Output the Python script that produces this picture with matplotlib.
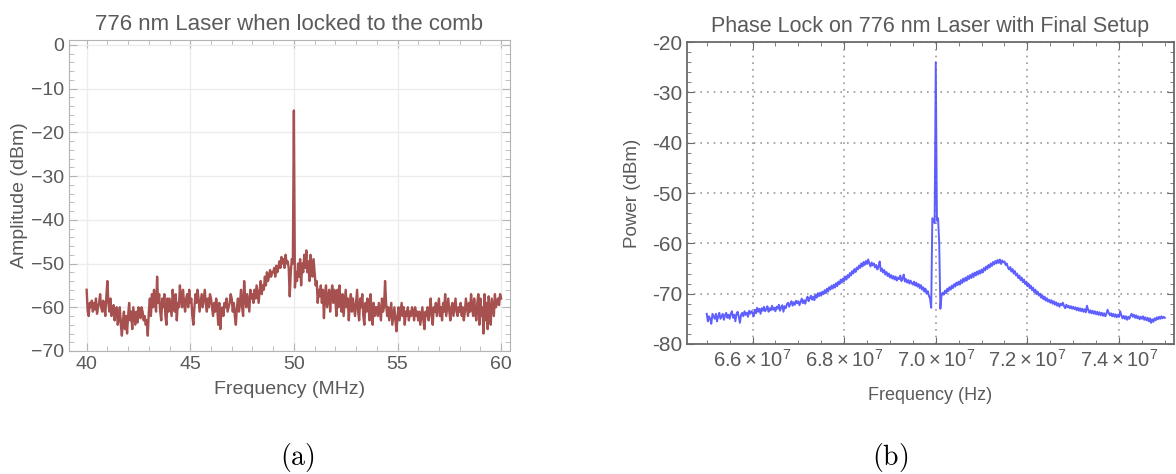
import numpy as np
import matplotlib
matplotlib.use("Agg")
import matplotlib.pyplot as plt
from matplotlib.ticker import MultipleLocator, FuncFormatter

plt.rcParams['font.family'] = ['Liberation Sans', 'DejaVu Sans']
plt.rcParams['mathtext.fontset'] = 'custom'
plt.rcParams['mathtext.rm'] = 'Liberation Sans'
plt.rcParams['mathtext.it'] = 'Liberation Sans:italic'

# ---- panel (a): beat note, 40-60 MHz, 401 points ----
freq_a_start, freq_a_stop = 40.0, 60.0
amp_a = [
    -56, -61, -62, -59, -60, -58.5, -61, -59, -60.5, -58, -61.5, -60, -59, -57, -60, -61, -58.5, -60, -62, -57.5,
    -54, -59, -61, -58, -62, -60, -59.5, -63, -61, -60, -64, -62.5, -60, -64, -66.5, -63, -61, -65, -62, -66,
    -62, -59, -63, -61, -65, -60, -62, -64, -61, -63.5, -60, -61, -62.5, -60, -61, -63, -62, -64, -63, -66.5,
    -61, -58, -62, -57, -60, -56, -59, -61, -53, -59, -57, -61, -63, -58, -60, -57, -62, -64, -58, -61,
    -58, -60, -62, -56, -59, -61, -57, -63, -59, -60, -55, -58, -60, -56, -59, -61, -58, -57, -60, -56,
    -59, -58, -62, -64, -60, -57, -59, -56, -58, -61, -59, -57, -60, -58, -56, -59, -61, -58, -60, -57,
    -58, -60, -62, -59, -61, -58, -60, -64, -59, -65, -61, -60, -62, -59, -60, -58, -61, -60, -59, -57,
    -58, -61, -59, -62, -64, -60, -58, -61, -59, -56, -60, -62, -54, -58, -60, -57, -59, -61, -56, -58,
    -57, -59, -56, -58, -55, -57, -59, -56, -54, -57, -55, -56, -53, -55, -52, -54, -53, -51.5, -53, -52,
    -52, -51, -53, -50.5, -52, -51, -49.5, -51, -48.5, -50, -49, -51, -48, -50, -49.5, -51, -57.5, -52, -49, -50,
    -15, -55.5, -52, -54, -50, -53, -49, -55, -50, -52, -48, -51, -47, -52, -49.5, -54, -48, -50, -53, -49,
    -52, -55, -54, -59, -56, -57.5, -55, -59, -56, -62.5, -57, -55, -60, -58, -56, -61, -57, -55, -59, -56,
    -58, -62, -56, -60, -55, -59, -61, -57, -62, -59, -56, -60, -58, -63, -59, -57, -61, -58, -60, -62,
    -59, -56, -61, -63, -58, -60, -57, -62, -64, -59, -61, -58, -60, -63, -57, -61, -64, -59, -62, -60,
    -60, -62, -59, -61, -63, -58, -61, -60, -54, -59, -62, -60, -63, -61, -59, -64, -62, -60, -63, -65.5,
    -62, -60, -63, -61, -59, -62, -60, -64, -61, -62, -60, -63, -61, -62, -60, -61, -63, -60, -62, -61,
    -63, -61, -64, -62, -60, -63, -65, -61, -62, -60, -63, -61, -58, -62, -64, -60, -61, -59, -62, -60,
    -58, -62, -60, -63, -59, -61, -57, -62, -60, -58, -61, -63, -60, -59, -62, -60, -58, -61, -62, -60,
    -61, -59, -62, -60, -63, -61, -58, -60, -62, -59, -61, -57, -60, -62, -58, -61, -63, -59, -57, -64,
    -58, -62, -60, -66, -57, -63, -59, -65, -57.5, -61, -64, -58, -60, -62, -57, -60, -59, -58, -59.5, -57,
    -58,
]

# ---- panel (b): phase lock, 65-75 MHz (Hz), 401 points ----
freq_b_start, freq_b_stop = 6.5e7, 7.5e7
pow_b = [
    -74, -75.5, -74.5, -75, -76, -74, -74.5, -75, -74, -75.5, -74.5, -73.8, -75, -74.5, -74, -75.2, -74.3, -73.8, -74.8, -74.2,
    -75, -74, -73.5, -74.8, -74.2, -75.5, -74, -73.6, -74.6, -75.8, -74.2, -73.8, -74.5, -73.5, -74.2, -73.8, -74.6, -73.4, -74, -73.5,
    -73.8, -74.5, -73.2, -73.9, -72.8, -73.6, -73, -74, -72.9, -73.4, -72.6, -73.5, -73.1, -72.5, -73.6, -72.9, -73.3, -72.4, -73.2, -72.8,
    -73.5, -72.6, -73, -72.2, -73.4, -72.7, -72.3, -73.6, -72.5, -72.9, -72.1, -71.8, -72.6, -72, -71.5, -72.4, -71.7, -72.2, -71.4, -71.9,
    -71.5, -72.3, -71.6, -71, -71.9, -71.3, -72, -71.2, -70.6, -71.5, -70.9, -70.4, -71.2, -70.6, -71.3, -70.2, -70.8, -69.9, -70.5, -69.8,
    -70.4, -69.6, -70.1, -69.3, -69.9, -69, -69.6, -68.7, -69.2, -68.4, -69, -68.2, -68.8, -67.9, -68.5, -67.6, -68.1, -67.2, -67.8, -67,
    -67.5, -66.6, -67.2, -66.3, -66.8, -65.9, -66.4, -65.5, -66, -65.1, -65.7, -64.8, -65.2, -64.4, -64.9, -64, -64.6, -63.7, -64.3, -63.5,
    -64.1, -63.2, -64, -64.6, -63.8, -64.4, -64, -64.8, -64.3, -65.2, -64.6, -63.6, -65.5, -65, -65.8, -65.3, -66.2, -65.7, -66.5, -66,
    -66.8, -66.3, -67, -66.5, -67.2, -66.6, -67.4, -66.8, -67.1, -66.4, -67.5, -67, -66.2, -67.6, -67.1, -67.8, -67.3, -68, -67.4, -67.9,
    -68.2, -67.6, -68.4, -67.8, -68.6, -68.1, -68.9, -68.3, -69.2, -68.7, -69.6, -69, -70, -69.5, -70.4, -71, -72.8, -55, -55.5, -56,
    -24, -55.5, -55, -60, -73, -70.5, -69.8, -70.2, -69.4, -69.9, -69, -69.5, -68.7, -69.2, -68.4, -68.9, -68.1, -68.6, -67.8, -68.3,
    -67.6, -68.2, -67.3, -67.9, -67, -67.6, -66.8, -67.4, -66.5, -67.1, -66.3, -66.9, -66, -66.7, -65.8, -66.4, -65.6, -66.2, -65.4, -66,
    -65.2, -65.8, -64.9, -65.4, -64.6, -65.1, -64.3, -64.8, -64, -64.5, -63.7, -64.2, -63.5, -64, -63.3, -63.9, -63.2, -64.1, -63.4, -63.8,
    -63.6, -64.3, -64, -64.8, -65.2, -64.7, -65.6, -65.1, -66, -65.5, -66.4, -66, -66.9, -66.4, -67.3, -66.8, -67.7, -67.2, -68.1, -67.6,
    -68.5, -68, -68.9, -68.4, -69.3, -68.8, -69.7, -69.2, -70.1, -69.6, -70.4, -70, -70.8, -70.3, -71.1, -70.6, -71.4, -70.9, -71.6, -71.2,
    -71.8, -71.3, -72, -71.5, -72.2, -71.7, -72.4, -71.9, -72.6, -72, -72.3, -71.8, -72.5, -72.9, -72.2, -72.7, -72.4, -72.9, -72.5, -73,
    -72.6, -73.1, -72.7, -73.3, -72.8, -73.4, -72.9, -73.5, -73, -73.6, -73.1, -73.7, -72.4, -73.2, -73.8, -73.3, -73.9, -73.4, -74, -73.5,
    -74.1, -73.6, -74.2, -73.7, -74.3, -73.8, -74.4, -73.9, -74.5, -74, -73.2, -73.8, -74.3, -73.9, -74.5, -74, -74.6, -74.1, -74.7, -74.2,
    -74.6, -73.5, -74.3, -74.9, -74.4, -75, -74.5, -75.2, -74.6, -75, -74.4, -74, -74.6, -74.2, -74.8, -74.3, -74.9, -74.5, -75.1, -74.6,
    -75, -74.5, -75.2, -74.7, -75.3, -74.8, -75.5, -74.9, -75.8, -75.1, -75.6, -74.9, -75.3, -74.7, -75.1, -74.6, -75, -74.5, -74.9, -74.6,
    -74.8,
]

xticks_b = [6.6e7, 6.8e7, 7.0e7, 7.2e7, 7.4e7]
xtick_labels_b = [r'$6.6\times10^{7}$', r'$6.8\times10^{7}$', r'$7.0\times10^{7}$',
                  r'$7.2\times10^{7}$', r'$7.4\times10^{7}$']

freq_a = np.linspace(freq_a_start, freq_a_stop, len(amp_a))
freq_b = np.linspace(freq_b_start, freq_b_stop, len(pow_b))

txt = '#5a5a5a'
fig = plt.figure(figsize=(11.76, 4.74), dpi=100)

# left panel
ax1 = fig.add_axes([0.0587, 0.2595, 0.375, 0.656])
ax1.plot(freq_a, amp_a, color='#a65050', lw=1.7)
ax1.set_xlim(39.15, 60.43)
ax1.set_ylim(-70, 1.1)
ax1.xaxis.set_major_locator(MultipleLocator(5))
ax1.xaxis.set_minor_locator(MultipleLocator(1))
ax1.yaxis.set_major_locator(MultipleLocator(10))
ax1.yaxis.set_minor_locator(MultipleLocator(2))
ax1.grid(True, which='major', color='#ececec', lw=1)
ax1.set_axisbelow(True)
for s in ax1.spines.values():
    s.set_color('#b4b4b4')
ax1.tick_params(which='both', direction='in', top=True, right=True, colors='#b4b4b4',
                labelcolor=txt, labelsize=14)
ax1.tick_params(which='major', length=6)
ax1.tick_params(which='minor', length=3.5)
ax1.set_title('776 nm Laser when locked to the comb', fontsize=16, color=txt, pad=7)
ax1.set_xlabel('Frequency (MHz)', fontsize=14, color=txt, labelpad=6)
ax1.set_ylabel('Amplitude (dBm)', fontsize=14, color=txt, labelpad=2)

# right panel
ax2 = fig.add_axes([0.5842, 0.2743, 0.4141, 0.637])
ax2.plot(freq_b, pow_b, color='#4d4dff', lw=1.4, alpha=0.9)
ax2.set_xlim(6.457e7, 7.52e7)
ax2.set_ylim(-80, -20)
ax2.set_xticks(xticks_b)
ax2.set_xticklabels(xtick_labels_b)
ax2.xaxis.set_minor_locator(MultipleLocator(0.05e7))
ax2.yaxis.set_major_locator(MultipleLocator(10))
ax2.yaxis.set_minor_locator(MultipleLocator(2))
ax2.yaxis.set_major_formatter(FuncFormatter(lambda v, p: '%d' % v))
ax2.grid(True, which='major', color='#9a9a9a', lw=1.2, linestyle=(0, (1, 3)))
ax2.set_axisbelow(True)
for s in ax2.spines.values():
    s.set_color('#6a6a6a')
    s.set_linewidth(1.3)
ax2.tick_params(which='both', direction='in', top=True, right=True, colors='#6a6a6a',
                labelcolor=txt, labelsize=14.5)
ax2.tick_params(which='major', length=5)
ax2.tick_params(which='minor', length=3)
ax2.tick_params(axis='y', labelsize=15)
ax2.set_title('Phase Lock on 776 nm Laser with Final Setup', fontsize=15.5, color=txt, pad=7)
ax2.set_xlabel('Frequency (Hz)', fontsize=13, color=txt, labelpad=12)
ax2.set_ylabel('Power (dBm)', fontsize=13.5, color=txt, labelpad=8)

# subfigure captions
fig.text(0.2525, 0.035, r'$\mathrm{(a)}$', fontsize=20, ha='center', va='center',
         math_fontfamily='cm')
fig.text(0.757, 0.035, r'$\mathrm{(b)}$', fontsize=20, ha='center', va='center',
         math_fontfamily='cm')

fig.savefig('out.png', dpi=100)
